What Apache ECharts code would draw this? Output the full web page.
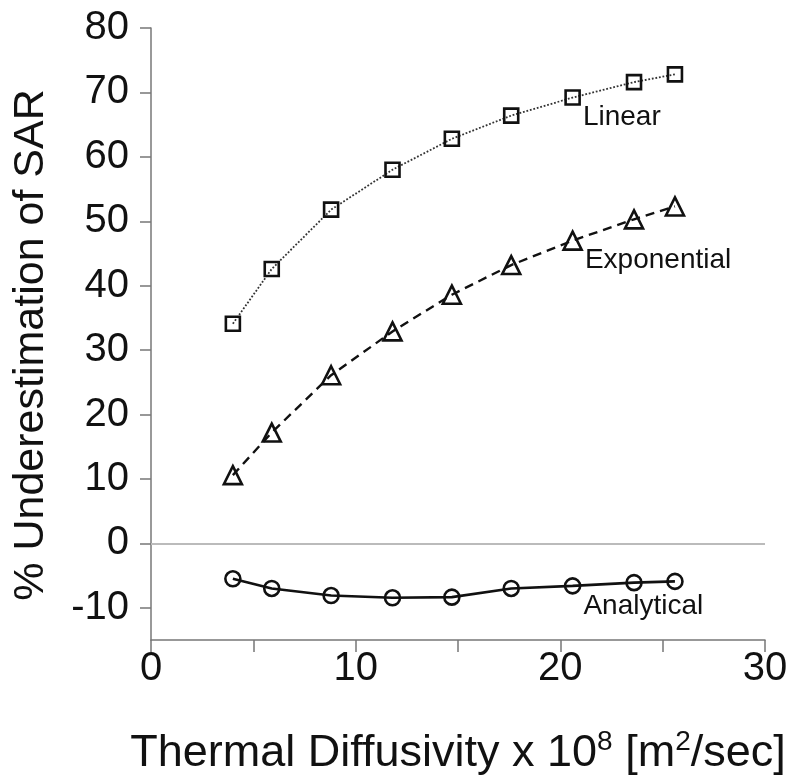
<!DOCTYPE html>
<html><head><meta charset="utf-8">
<script src="https://cdn.jsdelivr.net/npm/echarts@6/dist/echarts.min.js"></script>
<style>html,body{margin:0;padding:0;background:#fff}#c{width:800px;height:783px}</style>
</head><body><div id="c"></div>
<script>
const diffusivity = [4.0, 5.9, 8.8, 11.8, 14.7, 17.6, 20.6, 23.6, 25.6];
const linear = [34.1, 42.6, 51.8, 58.0, 62.8, 66.4, 69.2, 71.6, 72.8];
const exponential = [10.6, 17.2, 26.1, 32.9, 38.6, 43.2, 47.0, 50.3, 52.3];
const analytical = [-5.5, -7.0, -8.1, -8.45, -8.35, -7.0, -6.6, -6.1, -5.9];
const yTicks = [-10, 0, 10, 20, 30, 40, 50, 60, 70, 80];
const xLabelTicks = [0, 10, 20, 30];
const labelIndex = 6;

const FONT = '"Liberation Sans", Arial, sans-serif';
function pts(ys, name) {
  return diffusivity.map((x, i) => {
    if (i === labelIndex) {
      return { value: [x, ys[i]], label: { show: true, formatter: name, position: 'right', offset: [-3, 20],
        fontFamily: FONT, fontSize: 28, color: '#111' } };
    }
    return [x, ys[i]];
  });
}
const markerStyle = { color: 'rgba(0,0,0,0)', borderColor: '#111', borderWidth: 2.6 };
const chart = echarts.init(document.getElementById('c'), null, { renderer: 'canvas' });
chart.setOption({
  animation: false,
  backgroundColor: '#fff',
  grid: { left: 151, right: 35, top: 28, bottom: 143, containLabel: false },
  xAxis: {
    type: 'value', min: 0, max: 30, interval: 5,
    name: 'Thermal Diffusivity x 10{sup|8} [m{sup|2}/sec]',
    nameLocation: 'middle', nameGap: 88,
    nameTextStyle: { fontFamily: FONT, fontSize: 45, color: '#111',
      rich: { sup: { fontFamily: FONT, fontSize: 28, color: '#111', padding: [0, 0, 24, 0] } } },
    axisLine: { show: true, onZero: false, lineStyle: { color: '#777', width: 1.5 } },
    axisTick: { show: true, length: 12, lineStyle: { color: '#777', width: 1.5 } },
    axisLabel: { fontFamily: FONT, fontSize: 40, color: '#111', margin: 9,
      formatter: v => xLabelTicks.includes(v) ? String(v) : '' },
    splitLine: { show: false }
  },
  yAxis: {
    type: 'value', min: -15, max: 80,
    name: '% Underestimation of SAR',
    nameLocation: 'middle', nameGap: 98, nameRotate: 90,
    nameTextStyle: { fontFamily: FONT, fontSize: 43, color: '#111', padding: [0, 22, 0, 0] },
    axisLine: { show: true, lineStyle: { color: '#777', width: 1.5 } },
    axisTick: { show: true, length: 11, lineStyle: { color: '#777', width: 1.5 },
      customValues: yTicks },
    axisLabel: { fontFamily: FONT, fontSize: 40, color: '#111', margin: 22, customValues: yTicks },
    splitLine: { show: false }
  },
  series: [
    {
      name: 'Linear', type: 'line', data: pts(linear, 'Linear'),
      symbol: 'rect', symbolSize: 14,
      lineStyle: { type: 'dotted', width: 1.8, color: '#333' },
      itemStyle: markerStyle,
      markLine: { silent: true, symbol: 'none', label: { show: false },
        lineStyle: { type: 'solid', color: '#bbb', width: 2 }, data: [{ yAxis: 0 }] }
    },
    {
      name: 'Exponential', type: 'line', data: pts(exponential, 'Exponential'),
      symbol: 'triangle', symbolSize: 18,
      lineStyle: { type: [9, 6], width: 2.4, color: '#111' },
      itemStyle: markerStyle
    },
    {
      name: 'Analytical', type: 'line', data: pts(analytical, 'Analytical'),
      symbol: 'circle', symbolSize: 15,
      lineStyle: { type: 'solid', width: 2.6, color: '#111' },
      itemStyle: markerStyle
    }
  ]
});
</script></body></html>
